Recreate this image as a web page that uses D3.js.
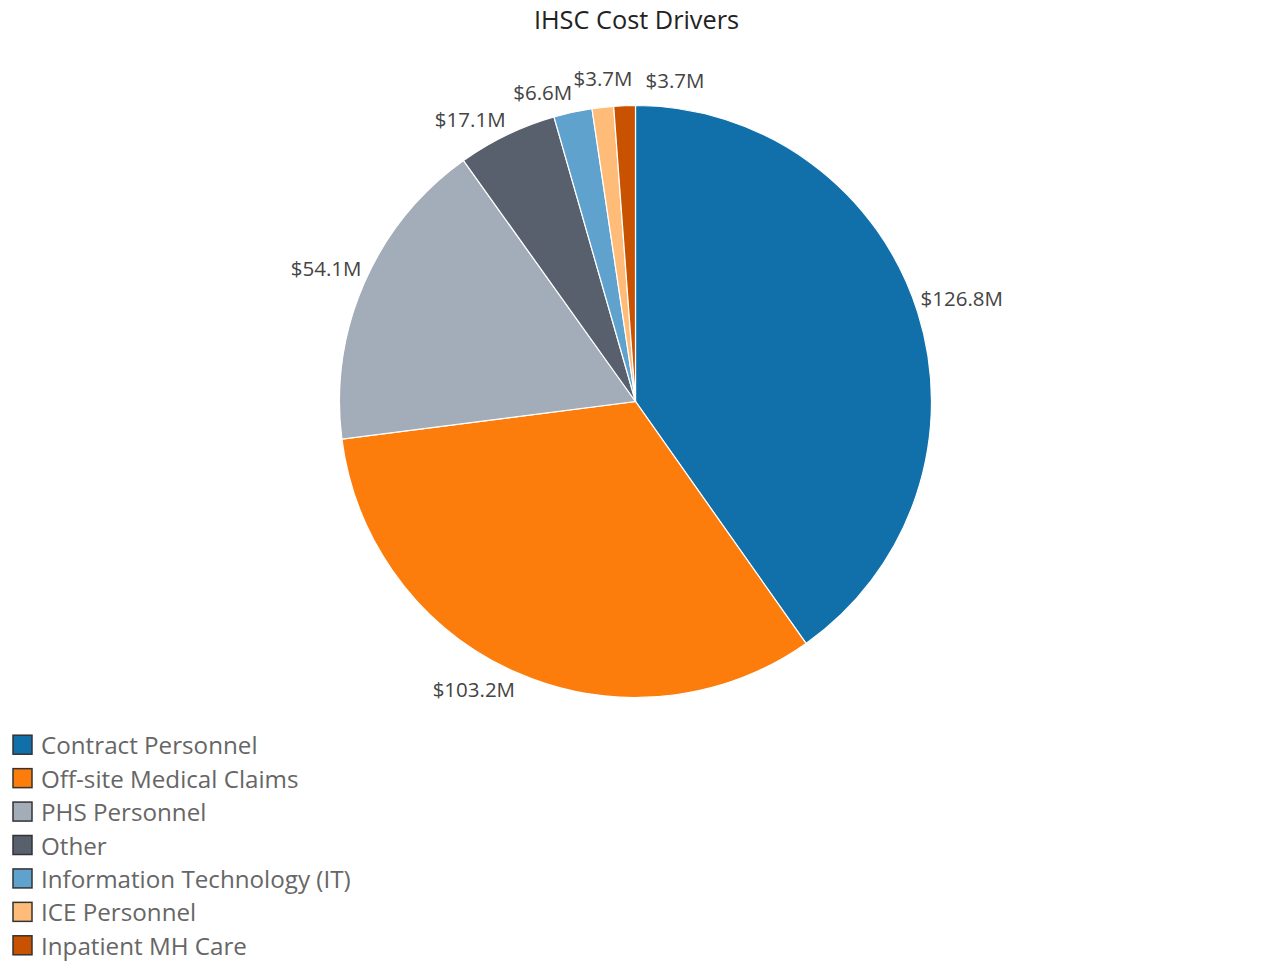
<!DOCTYPE html>
<html><head><meta charset="utf-8">
<script src="https://cdn.jsdelivr.net/npm/d3@7"></script>
<style>body{margin:0;background:#fff}svg{display:block}</style>
</head><body>
<svg id="c" width="1263" height="962"></svg>
<script>
const categories = ["Contract Personnel","Off-site Medical Claims","PHS Personnel","Other","Information Technology (IT)","ICE Personnel","Inpatient MH Care"];
const values = [126.8,103.2,54.1,17.1,6.6,3.7,3.7];
const colors = ["#1170aa","#fc7d0b","#a3acb9","#57606c","#5fa2ce","#ffbc79","#c85200"];
const labelNudge = [[0,0],[0,0],[0,0],[0,3],[0,0],[30,-8],[80,-4]];

const svg = d3.select("#c");
const cx=635.5, cy=401.5, R=296;
const font = "'Open Sans', sans-serif";

svg.append("text").attr("x",cx+1).attr("y",19).attr("text-anchor","middle").attr("dominant-baseline","central")
  .attr("font-family",font).attr("font-size",25.3).attr("fill","#222").text("IHSC Cost Drivers");

const data = categories.map((c,i)=>({c,v:values[i],i}));
const pie = d3.pie().value(d=>d.v).sort(null);
const arc = d3.arc().innerRadius(0).outerRadius(R);
const color = d3.scaleOrdinal().domain(categories).range(colors);
const arcs = pie(data);
const g = svg.append("g").attr("transform",`translate(${cx},${cy})`);
g.selectAll("path").data(arcs).join("path").attr("d",arc)
  .attr("fill",d=>color(d.data.c)).attr("stroke","#fff").attr("stroke-width",1.2);

const fmt = v=>"$"+d3.format(".1f")(v)+"M";
g.selectAll("text.lbl").data(arcs).join("text").attr("class","lbl")
  .each(function(d){
    const a=(d.startAngle+d.endAngle)/2;
    const x=Math.sin(a)*(R+3), y=-Math.cos(a)*R;
    const right = a<Math.PI;
    const n=labelNudge[d.data.i];
    const top = Math.cos(a)>0;
    const dy = top ? -14 - (1-Math.abs(Math.sin(a)))*8 : 17;
    d3.select(this).attr("x",x+n[0]).attr("y",y+dy+n[1])
      .attr("text-anchor", right?"start":"end");
  })
  .attr("dominant-baseline","central").attr("font-family",font).attr("font-size",20.5)
  .attr("fill","#444").text(d=>fmt(d.data.v));

const y = d3.scaleBand().domain(categories).range([728,962]).paddingInner(0);
const lg = svg.append("g");
const rows = lg.selectAll("g").data(categories).join("g")
  .attr("transform",d=>`translate(13,${y(d)+y.bandwidth()/2})`);
rows.append("rect").attr("x",0).attr("y",-9.5).attr("width",19).attr("height",19)
  .attr("fill",d=>color(d)).attr("stroke","#333").attr("stroke-width",1.5);
rows.append("text").attr("x",28).attr("y",0).attr("dominant-baseline","central")
  .attr("font-family",font).attr("font-size",24.2).attr("fill","#666").text(d=>d);
</script>
</body></html>
